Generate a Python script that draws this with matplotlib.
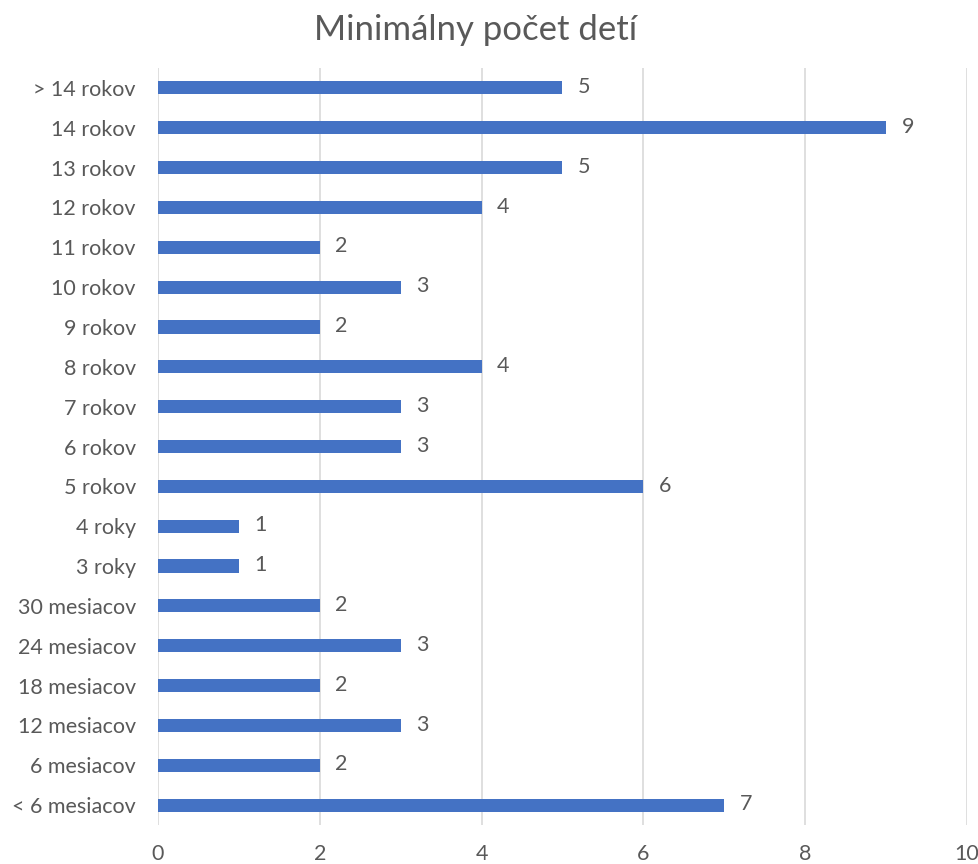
import matplotlib
matplotlib.use("Agg")
import matplotlib.pyplot as plt

# kategorie od spodu nahor
kategorie = ["< 6 mesiacov", "6 mesiacov", "12 mesiacov", "18 mesiacov", "24 mesiacov",
             "30 mesiacov", "3 roky", "4 roky", "5 rokov", "6 rokov", "7 rokov",
             "8 rokov", "9 rokov", "10 rokov", "11 rokov", "12 rokov", "13 rokov",
             "14 rokov", "> 14 rokov"]
pocty = [7, 2, 3, 2, 3, 2, 1, 1, 6, 3, 3, 4, 2, 3, 2, 4, 5, 9, 5]
xticky = [0, 2, 4, 6, 8, 10]

plt.rcParams['font.family'] = ['Lato', 'DejaVu Sans']
sivá = "#595959"

fig = plt.figure(figsize=(9.79, 8.64), dpi=100)
ax = fig.add_axes([0.1614, 0.0451, 0.8263, 0.8762])

y = list(range(len(kategorie)))
ax.barh(y, pocty, height=0.33, color="#4472C4", zorder=3)
for yi, v in zip(y, pocty):
    ax.text(v + 0.19, yi + 0.02, str(v), va="center", ha="left", fontsize=15.5, color=sivá)

ax.set_xlim(0, 10)
ax.set_ylim(-0.5, len(kategorie) - 0.5)
ax.set_xticks(xticky)
ax.set_yticks(y)
ax.set_yticklabels(kategorie)
ax.tick_params(axis="both", length=0, labelsize=15.5, labelcolor=sivá)
ax.tick_params(axis="x", pad=14)
ax.tick_params(axis="y", pad=16)
ax.grid(axis="x", color="#d9d9d9", linewidth=1.2, zorder=0)
for s in ax.spines.values():
    s.set_visible(False)

fig.text(0.4855, 0.965, "Minimálny počet detí", ha="center", va="center",
         fontsize=25, color=sivá)

plt.savefig("out.png", dpi=100)
